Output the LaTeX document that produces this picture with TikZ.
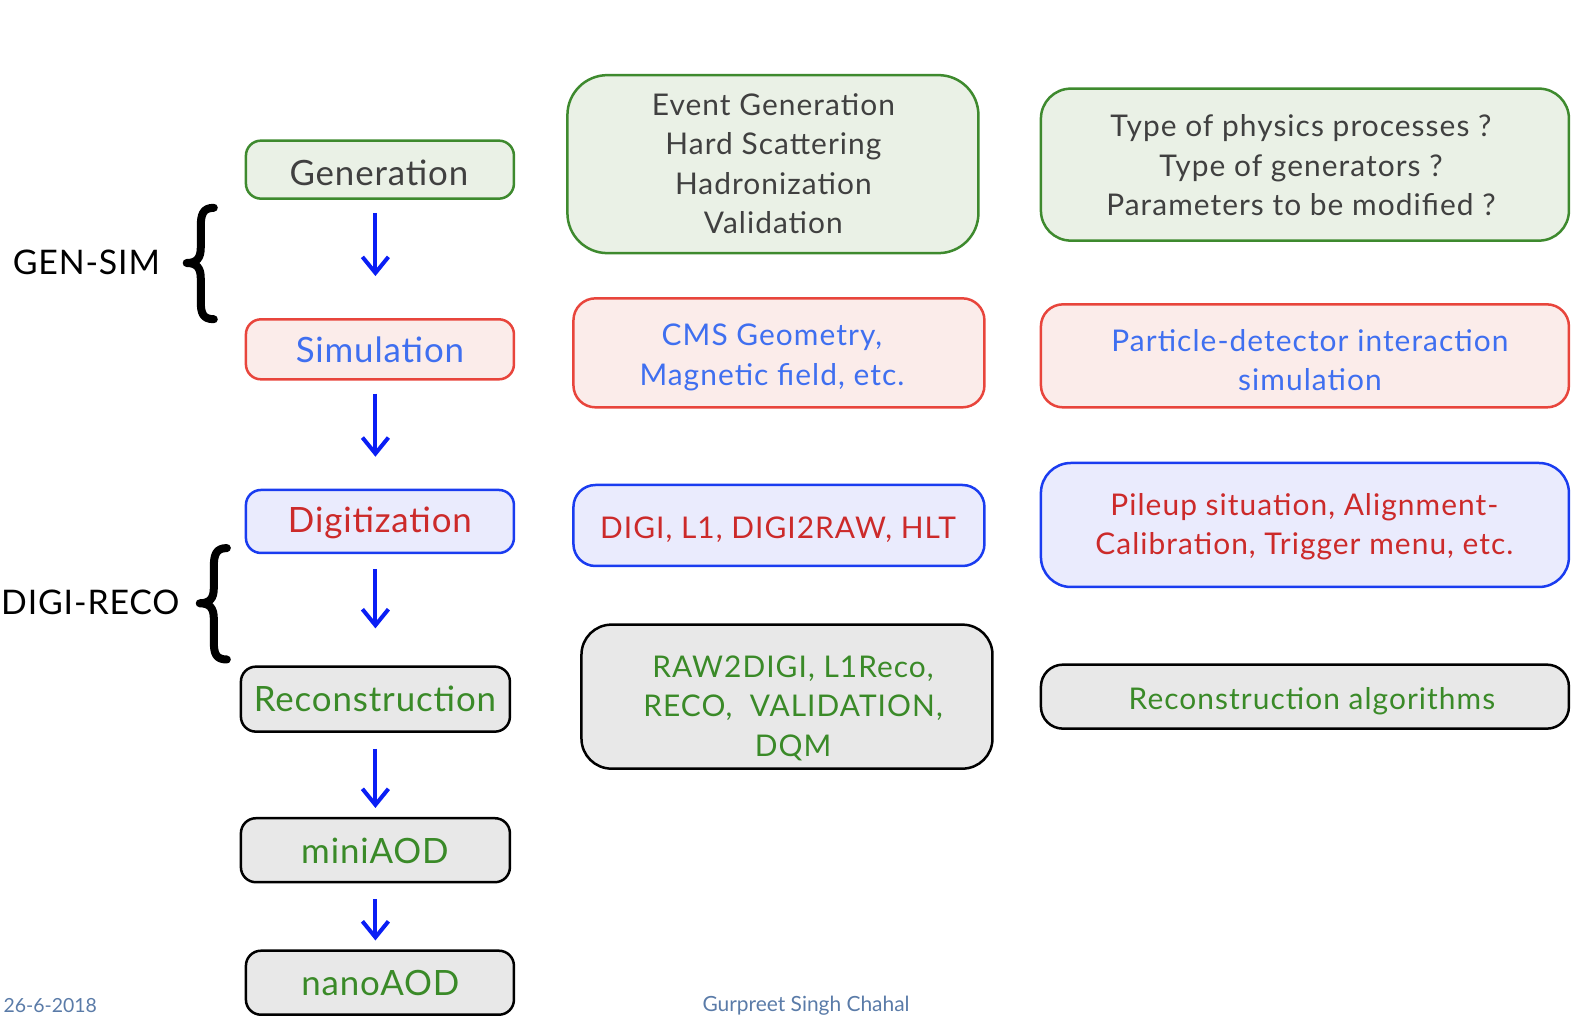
\documentclass[tikz,border=0pt]{standalone}
\usepackage{fontspec}
\setmainfont{Lato}
\newfontfamily\widelato[LetterSpace=3.5]{Lato}
\newfontfamily\stagelato[LetterSpace=2.5]{Lato}
\usetikzlibrary{arrows.meta}
\definecolor{gB}{HTML}{3E8A2E}
\definecolor{gF}{HTML}{EAF1E6}
\definecolor{rB}{HTML}{E8453C}
\definecolor{rF}{HTML}{FBECEA}
\definecolor{bB}{HTML}{1A3CF0}
\definecolor{bF}{HTML}{EAEBFD}
\definecolor{kF}{HTML}{E8E8E8}
\definecolor{tGray}{HTML}{404040}
\definecolor{tBlue}{HTML}{3F6FF0}
\definecolor{tRed}{HTML}{CC2A2A}
\definecolor{tGreen}{HTML}{3A8A28}
\definecolor{arr}{HTML}{0A1EF5}
\definecolor{foot}{HTML}{5A7BA8}
\tikzset{
  box/.style={rectangle, line width=2.5bp, inner sep=0pt},
  greenbox/.style={box, draw=gB, fill=gF},
  redbox/.style={box, draw=rB, fill=rF},
  bluebox/.style={box, draw=bB, fill=bF},
  greybox/.style={box, draw=black, fill=kF},
  stage/.style={rounded corners=15bp},
  stagetext/.style={font=\stagelato\fontsize{35}{40}\selectfont, align=center, inner sep=0pt},
  infotext/.style={font=\widelato\fontsize{30}{39.5}\selectfont, align=center, inner sep=0pt},
  flow/.style={draw=arr, line width=4bp, -{Straight Barb[length=16bp,width=26bp,line width=4bp]}},
  bracepath/.style={line width=8bp, line cap=round, line join=round},
  side/.style={font=\stagelato\fontsize{34}{40}\selectfont, text=black},
  footer/.style={text=foot}
}
\begin{document}
\begin{tikzpicture}[x=1.0038bp,y=-1.0038bp]
\useasboundingbox (0bp,0bp) rectangle (1574bp,-1022bp);
% left column
\node[greenbox, stage, minimum width=268bp, minimum height=58bp] (gen) at (378.5,169) {};
\node[stagetext, text=tGray] (genT) at (377.5,172) {Generation};
\node[redbox, stage, minimum width=268bp, minimum height=60bp] (sim) at (378.5,348) {};
\node[stagetext, text=tBlue] (simT) at (378.5,348.5) {Simulation};
\node[bluebox, stage, minimum width=268bp, minimum height=63bp] (digi) at (378.5,519.5) {};
\node[stagetext, text=tRed] (digiT) at (378.5,520.5) {Digitization};
\node[greybox, stage, minimum width=269bp, minimum height=65bp] (reco) at (374,696.5) {};
\node[stagetext, text=tGreen] (recoT) at (373.5,696.5) {Reconstruction};
\node[greybox, stage, minimum width=269bp, minimum height=64bp] (mini) at (374,847) {};
\node[stagetext, text=tGreen] (miniT) at (373.5,848) {miniAOD};
\node[greybox, stage, minimum width=268bp, minimum height=64bp] (nano) at (378.5,979) {};
\node[stagetext, text=tGreen] (nanoT) at (379,979) {nanoAOD};
% middle column
\node[greenbox, rounded corners=40bp, minimum width=411bp, minimum height=178bp] (evgen) at (770,163.5) {};
\node[infotext, text=tGray] (evgenT) at (770.5,163) {Event Generation\\Hard Scattering\\Hadronization\\Validation};
\node[redbox, rounded corners=22bp, minimum width=411bp, minimum height=109bp] (geom) at (776,351.5) {};
\node[infotext, text=tBlue] (geomT) at (769,356) {CMS Geometry,\\Magnetic field, etc.};
\node[bluebox, rounded corners=22bp, minimum width=411bp, minimum height=81bp] (digisteps) at (776,523.5) {};
\node[infotext, text=tRed] (digistepsT) at (775,527.5) {DIGI, L1, DIGI2RAW, HLT};
\node[greybox, rounded corners=30bp, minimum width=411bp, minimum height=144bp] (recosteps) at (784,694) {};
\node[infotext, text=tGreen] (recostepsT) at (790,705.5) {RAW2DIGI, L1Reco,\\RECO,\ \ VALIDATION,\\DQM};
% right column
\node[greenbox, rounded corners=30bp, minimum width=528bp, minimum height=152bp] (phys) at (1300,164) {};
\node[infotext, text=tGray] (physT) at (1296,164.5) {Type of physics processes ?\\Type of generators ?\\Parameters to be modified ?};
\node[redbox, rounded corners=22bp, minimum width=528bp, minimum height=103bp] (pdi) at (1300,354.5) {};
\node[infotext, text=tBlue] (pdiT) at (1305,359) {Particle-detector interaction\\simulation};
\node[bluebox, rounded corners=30bp, minimum width=528bp, minimum height=124bp] (pileup) at (1300,523) {};
\node[infotext, text=tRed] (pileupT) at (1299.5,525) {Pileup situation, Alignment-\\Calibration, Trigger menu, etc.};
\node[greybox, rounded corners=22bp, minimum width=528bp, minimum height=64bp] (algs) at (1300,694) {};
\node[infotext, text=tGreen] (algsT) at (1307,699) {Reconstruction algorithms};
% arrows
\coordinate (ax) at (374,0);
\draw[flow, shorten <=13bp, shorten >=42bp] (gen.south -| ax) -- (sim.north -| ax);
\draw[flow, shorten <=13bp, shorten >=32bp] (sim.south -| ax) -- (digi.north -| ax);
\draw[flow, shorten <=15bp, shorten >=37bp] (digi.south -| ax) -- (reco.north -| ax);
\draw[flow, shorten <=16bp, shorten >=9bp] (reco.south -| ax) -- (mini.north -| ax);
\draw[flow, shorten <=16bp, shorten >=9bp] (mini.south -| ax) -- (nano.north -| ax);
% braces
\node[side] (gensim) at (86,261) {GEN-SIM};
\draw[bracepath] (213,207) .. controls (202,207) and (200,214) .. (200,226) -- (200,247) .. controls (200,257) and (196,262) .. (186,262) .. controls (196,262) and (200,267) .. (200,277) -- (200,300) .. controls (200,312) and (202,318) .. (213,318);
\node[side] (digireco) at (90,600) {DIGI-RECO};
\draw[bracepath] (226,546) .. controls (215,546) and (213,553) .. (213,565) -- (213,586) .. controls (213,596) and (209,601) .. (199,601) .. controls (209,601) and (213,606) .. (213,616) -- (213,639) .. controls (213,651) and (215,657) .. (226,657);
% footer
\node[footer, font=\fontsize{19.5}{22}\selectfont] (date) at (50,1002) {26-6-2018};
\node[footer, font=\fontsize{21}{24}\selectfont] (author) at (803,1002) {Gurpreet Singh Chahal};
\end{tikzpicture}
\end{document}
